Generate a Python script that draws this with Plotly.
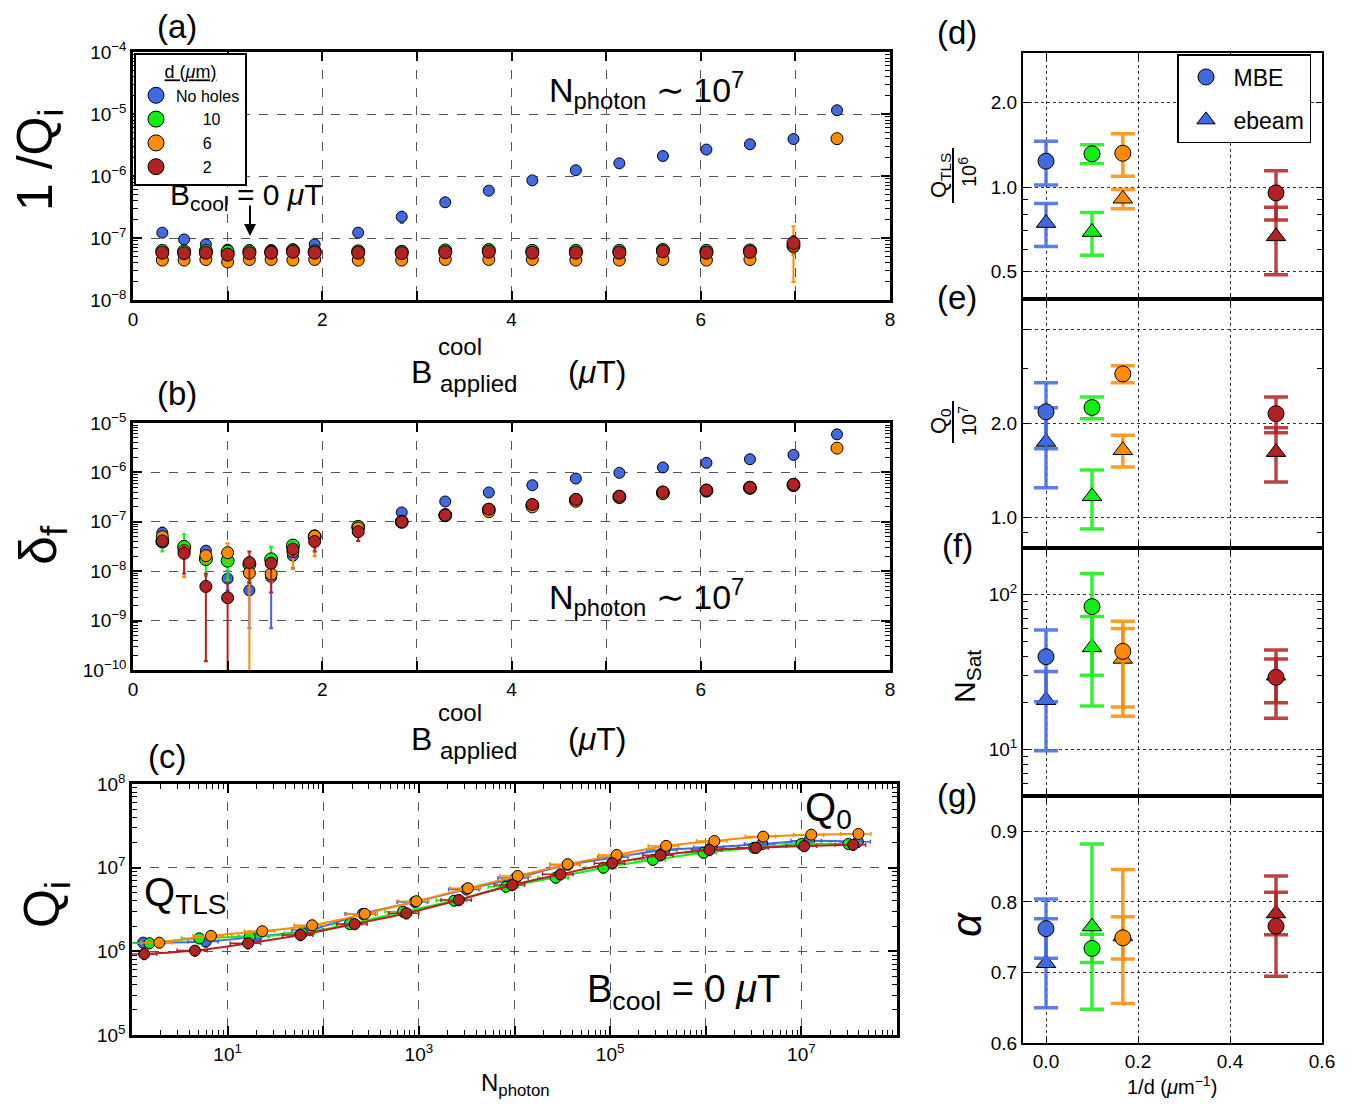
import plotly.graph_objects as go
import math

W, H = 1357, 1106
OX, OY = 8, 8   # page offset of the figure inside the browser page
def px(x): return (x - OX) / W
def py(y): return 1 - (y - OY) / H

FONT = "Liberation Sans, Arial, sans-serif"

# ---------------- data ----------------
series_names = ["No holes", "10", "6", "2"]
series_colors = ["#4169E1", "#11EE11", "#FF8C00", "#B22222"]

B_applied = [0.31, 0.54, 0.77, 1.00, 1.23, 1.46, 1.69, 1.92, 2.38, 2.84,
             3.30, 3.76, 4.22, 4.68, 5.14, 5.60, 6.06, 6.52, 6.98, 7.44]

# (a) 1/Qi
invQ_noholes = [1.22e-7, 9.5e-8, 7.9e-8, 6.5e-8, 6.4e-8, 6.4e-8, 6.6e-8, 7.9e-8, 1.22e-7, 2.2e-7,
                3.77e-7, 5.8e-7, 8.5e-7, 1.24e-6, 1.6e-6, 2.1e-6, 2.67e-6, 3.25e-6, 3.95e-6, 1.15e-5]
invQ_noholes_err = [1.5e-8, 1.2e-8, 1.0e-8, 1.0e-8, 8e-9, 8e-9, 1.0e-8, 1.0e-8, 2e-8, 4.5e-8,
                    3e-8, 3e-8, 4e-8, 5e-8, 6e-8, 8e-8, 1e-7, 1.2e-7, 1.5e-7, 4e-7]
invQ_10 = [6.2e-8, 6.1e-8, 6.2e-8, 6.0e-8, 6.1e-8, 6.0e-8, 6.3e-8, 6.1e-8, 6.1e-8, 6.0e-8,
           6.3e-8, 6.4e-8, 6.2e-8, 6.2e-8, 6.2e-8, 6.4e-8, 6.2e-8, 6.3e-8, 7.4e-8]
invQ_10_err = [4e-9, 4e-9, 4e-9, 4e-9, 4e-9, 4e-9, 4e-9, 4e-9, 4e-9, 4e-9,
               4e-9, 4e-9, 4e-9, 4e-9, 4e-9, 4e-9, 4e-9, 4e-9, 2.1e-8]
invQ_6 = [4.4e-8, 4.4e-8, 4.5e-8, 4.1e-8, 4.5e-8, 4.5e-8, 4.4e-8, 4.5e-8, 4.4e-8, 4.4e-8,
          4.5e-8, 4.5e-8, 4.5e-8, 4.4e-8, 4.4e-8, 4.5e-8, 4.4e-8, 4.5e-8, 7.5e-8, 4.0e-6]
invQ_6_errp = [3e-9, 3e-9, 3e-9, 3e-9, 3e-9, 3e-9, 3e-9, 3e-9, 3e-9, 3e-9,
               3e-9, 3e-9, 3e-9, 3e-9, 3e-9, 3e-9, 3e-9, 3e-9, 8e-8, 2e-7]
invQ_6_errm = [3e-9, 3e-9, 3e-9, 3e-9, 3e-9, 3e-9, 3e-9, 3e-9, 3e-9, 3e-9,
               3e-9, 3e-9, 3e-9, 3e-9, 3e-9, 3e-9, 3e-9, 3e-9, 5.55e-8, 2e-7]
invQ_2 = [5.8e-8, 5.7e-8, 5.8e-8, 5.4e-8, 5.7e-8, 5.8e-8, 6.0e-8, 5.8e-8, 5.8e-8, 5.7e-8,
          5.9e-8, 6.0e-8, 5.8e-8, 5.8e-8, 5.8e-8, 6.1e-8, 5.8e-8, 6.0e-8, 8.3e-8]
invQ_2_err = [4e-9, 4e-9, 4e-9, 4e-9, 4e-9, 4e-9, 4e-9, 4e-9, 4e-9, 4e-9,
              4e-9, 4e-9, 4e-9, 4e-9, 4e-9, 4e-9, 4e-9, 4e-9, 2.5e-8]

# (b) delta_f
df_noholes = [6.0e-8, 3.2e-8, 2.6e-8, 7.1e-9, 4.1e-9, 7.6e-9, 2.06e-8, 5.3e-8, 8.0e-8, 1.55e-7,
              2.58e-7, 3.93e-7, 5.5e-7, 7.5e-7, 9.8e-7, 1.26e-6, 1.56e-6, 1.85e-6, 2.26e-6, 5.9e-6]
df_noholes_errp = [1.7e-8, 8e-9, 5e-9, 3e-9, 2e-9, 3e-9, 5e-9, 1e-8, 1e-8, 1.5e-8,
                   2e-8, 3e-8, 4e-8, 5e-8, 6e-8, 8e-8, 1e-7, 1e-7, 1.2e-7, 3e-7]
df_noholes_errm = [1.2e-8, 8e-9, 5e-9, 3e-9, 3.4e-9, 6.9e-9, 9e-9, 1e-8, 1e-8, 1.5e-8,
                   2e-8, 3e-8, 4e-8, 5e-8, 6e-8, 8e-8, 1e-7, 1e-7, 1.2e-7, 3e-7]
df_10 = [4.0e-8, 3.1e-8, 1.76e-8, 1.63e-8, 1.38e-8, 1.74e-8, 3.3e-8, 5.0e-8, 7.9e-8, 1.0e-7,
         1.36e-7, 1.75e-7, 2.15e-7, 2.75e-7, 3.2e-7, 3.9e-7, 4.3e-7, 4.9e-7, 5.6e-7]
df_10_errp = [8e-9, 2.5e-8, 6e-9, 6e-9, 5e-9, 1.4e-8, 8e-9, 8e-9, 8e-9, 1e-8,
              1.5e-8, 2e-8, 2e-8, 2.5e-8, 3e-8, 3e-8, 3.5e-8, 4e-8, 4.5e-8]
df_10_errm = [1.5e-8, 1.0e-8, 9.5e-9, 9.7e-9, 7.3e-9, 6e-9, 8e-9, 8e-9, 8e-9, 1e-8,
              1.5e-8, 2e-8, 2e-8, 2.5e-8, 3e-8, 3e-8, 3.5e-8, 4e-8, 4.5e-8]
df_6 = [5.0e-8, 2.6e-8, 2.06e-8, 2.37e-8, 9.2e-9, 8.8e-9, 2.5e-8, 5.1e-8, 7.5e-8, 1.0e-7,
        1.38e-7, 1.6e-7, 2.0e-7, 2.6e-7, 3.1e-7, 3.7e-7, 4.2e-7, 4.8e-7, 5.4e-7, 3.1e-6]
df_6_errp = [1e-8, 8e-9, 5e-9, 1.3e-8, 4e-9, 3e-9, 5e-9, 8e-9, 8e-9, 1e-8,
             1.5e-8, 2e-8, 2e-8, 2.5e-8, 3e-8, 3e-8, 3.5e-8, 4e-8, 4.5e-8, 2e-7]
df_6_errm = [1e-8, 1.85e-8, 5e-9, 8e-9, 9.15e-9, 3e-9, 1.4e-8, 3.1e-8, 8e-9, 1e-8,
             1.5e-8, 2e-8, 2e-8, 2.5e-8, 3e-8, 3e-8, 3.5e-8, 4e-8, 4.5e-8, 2e-7]
df_2 = [4.1e-8, 2.3e-8, 4.9e-9, 2.9e-9, 1.5e-8, 1.45e-8, 2.8e-8, 4.0e-8, 6.3e-8, 1.0e-7,
        1.36e-7, 1.8e-7, 2.24e-7, 2.84e-7, 3.3e-7, 4.0e-7, 4.36e-7, 4.95e-7, 5.7e-7]
df_2_errp = [8e-9, 9e-9, 4e-9, 2.9e-9, 1e-8, 4e-9, 6e-9, 8e-9, 8e-9, 1e-8,
             1.5e-8, 2e-8, 2e-8, 2.5e-8, 3e-8, 3e-8, 3.5e-8, 4e-8, 4.5e-8]
df_2_errm = [8e-9, 1.4e-8, 4.75e-9, 2.89e-9, 9.2e-9, 1.08e-8, 8e-9, 1.5e-8, 2.2e-8, 1e-8,
             1.5e-8, 2e-8, 2e-8, 2.5e-8, 3e-8, 3e-8, 3.5e-8, 4e-8, 4.5e-8]

# (c) Qi vs Nphoton
N_noholes = [1.31, 5.9, 20, 72, 260, 910, 3150, 1.03e4, 3.6e4, 1.14e5, 3.7e5, 1.15e6, 3.9e6, 1.2e7, 3.9e7]
Qi_noholes = [1.27e6, 1.31e6, 1.5e6, 1.8e6, 2.8e6, 3.9e6, 5.5e6, 7.5e6, 1.08e7, 1.33e7, 1.63e7, 1.75e7, 1.92e7, 2.1e7, 2.04e7]
N_10 = [1.52, 5.06, 17, 60, 189, 683, 2340, 8160, 2.7e4, 8.5e4, 2.8e5, 9.5e5, 3.2e6, 1.0e7, 3.1e7]
Qi_10 = [1.25e6, 1.43e6, 1.5e6, 1.65e6, 2.12e6, 2.98e6, 4.04e6, 5.93e6, 7.6e6, 1.0e7, 1.24e7, 1.51e7, 1.73e7, 1.92e7, 1.92e7]
N_6 = [1.93, 6.7, 23, 76.5, 272, 942, 3260, 1.08e4, 3.6e4, 1.17e5, 3.85e5, 1.23e6, 3.99e6, 1.27e7, 3.95e7]
Qi_6 = [1.27e6, 1.53e6, 1.74e6, 2.05e6, 2.8e6, 3.97e6, 5.68e6, 7.96e6, 1.1e7, 1.42e7, 1.82e7, 2.08e7, 2.35e7, 2.48e7, 2.53e7]
N_2 = [1.34, 4.55, 16.4, 57.8, 213, 740, 2620, 9460, 3.02e4, 1.05e5, 3.37e5, 1.09e6, 3.35e6, 1.07e7, 3.48e7]
Qi_2 = [9.3e5, 1.02e6, 1.25e6, 1.57e6, 2.12e6, 2.85e6, 4.11e6, 6.2e6, 8.33e6, 1.13e7, 1.41e7, 1.63e7, 1.73e7, 1.81e7, 1.88e7]

# (d)-(g) fit parameters vs 1/d  (order: No holes, 10, 6, 2)
inv_d = [0.0, 0.1, 0.167, 0.5]
QTLS_mbe = [1.237, 1.314, 1.32, 0.954]
QTLS_mbe_err = [0.22, 0.10, 0.227, 0.19]
QTLS_ebeam = [0.745, 0.692, 0.909, 0.668]
QTLS_ebeam_err = [0.13, 0.12, 0.072, 0.18]
Q0_mbe = [2.18, 2.25, 2.88, 2.15]
Q0_mbe_err = [0.52, 0.18, 0.18, 0.28]
Q0_ebeam = [1.746, 1.17, 1.643, 1.62]
Q0_ebeam_err = [0.50, 0.25, 0.19, 0.32]
Nsat_mbe = [39.7, 83.6, 43.0, 29.2]
Nsat_mbe_err = [19.4, 53.5, 24.2, 9.2]
Nsat_ebeam = [20.8, 45.6, 38.4, 29.9]
Nsat_ebeam_err = [11.0, 26.5, 22.0, 14.0]
alpha_mbe = [0.762, 0.734, 0.749, 0.7655]
alpha_mbe_err = [0.042, 0.02, 0.03, 0.071]
alpha_ebeam = [0.713, 0.765, 0.751, 0.7835]
alpha_ebeam_err = [0.063, 0.117, 0.095, 0.03]

# ---------------- figure ----------------
fig = go.Figure()

def rgba(hexc, a):
    h = hexc.lstrip('#')
    return "rgba(%d,%d,%d,%.2f)" % (int(h[0:2], 16), int(h[2:4], 16), int(h[4:6], 16), a)

# (a)
a_vals = [invQ_noholes, invQ_10, invQ_6, invQ_2]
a_errp = [invQ_noholes_err, invQ_10_err, invQ_6_errp, invQ_2_err]
a_errm = [invQ_noholes_err, invQ_10_err, invQ_6_errm, invQ_2_err]
a_sizes = [11, 13, 12, 13]
for i in range(4):
    fig.add_trace(go.Scatter(
        x=B_applied[:len(a_vals[i])], y=a_vals[i], mode="markers",
        marker=dict(size=a_sizes[i], color=series_colors[i], line=dict(color="black", width=1)),
        error_y=dict(type="data", array=a_errp[i], arrayminus=a_errm[i], symmetric=False,
                     color=series_colors[i], thickness=2, width=2),
        xaxis="x", yaxis="y", showlegend=False))
# legend entries (a)
for i in range(4):
    fig.add_trace(go.Scatter(
        x=[None], y=[None], mode="markers",
        name=series_names[i] if i == 0 else "\u2007\u2007\u2007" + series_names[i],
        marker=dict(size=16, color=series_colors[i], line=dict(color="black", width=1)),
        xaxis="x", yaxis="y", legend="legend", showlegend=True))

# (b)
b_vals = [df_noholes, df_10, df_6, df_2]
b_errp = [df_noholes_errp, df_10_errp, df_6_errp, df_2_errp]
b_errm = [df_noholes_errm, df_10_errm, df_6_errm, df_2_errm]
b_sizes = [11, 13, 12, 12]
for i in range(4):
    fig.add_trace(go.Scatter(
        x=B_applied[:len(b_vals[i])], y=b_vals[i], mode="markers",
        marker=dict(size=b_sizes[i], color=series_colors[i], line=dict(color="black", width=1)),
        error_y=dict(type="data", array=b_errp[i], arrayminus=b_errm[i], symmetric=False,
                     color=series_colors[i], thickness=2, width=2),
        xaxis="x2", yaxis="y2", showlegend=False))

# (c)
c_N = [N_noholes, N_10, N_6, N_2]
c_Q = [Qi_noholes, Qi_10, Qi_6, Qi_2]
for i in range(4):
    fig.add_trace(go.Scatter(
        x=c_N[i], y=c_Q[i], mode="lines+markers",
        line=dict(color=series_colors[i], width=2, shape="spline", smoothing=1.0),
        marker=dict(size=11, color=series_colors[i], line=dict(color="black", width=1)),
        error_y=dict(type="percent", value=14, color=series_colors[i], thickness=1.5, width=2),
        error_x=dict(type="percent", value=35, color=series_colors[i], thickness=1.5, width=2),
        xaxis="x3", yaxis="y3", showlegend=False))

# (d)-(g)
right = [
    ("x4", "y4", QTLS_mbe, QTLS_mbe_err, QTLS_ebeam, QTLS_ebeam_err),
    ("x5", "y5", Q0_mbe, Q0_mbe_err, Q0_ebeam, Q0_ebeam_err),
    ("x6", "y6", Nsat_mbe, Nsat_mbe_err, Nsat_ebeam, Nsat_ebeam_err),
    ("x7", "y7", alpha_mbe, alpha_mbe_err, alpha_ebeam, alpha_ebeam_err),
]
for xa, ya, mv, me, ev, ee in right:
    for i in range(4):
        for vals, errs, sym, sz in ((ev, ee, "triangle-up", 17), (mv, me, "circle", 16)):
            fig.add_trace(go.Scatter(
                x=[inv_d[i]], y=[vals[i]], mode="markers",
                marker=dict(size=sz, symbol=sym, color=series_colors[i], line=dict(color="black", width=1)),
                error_y=dict(type="data", array=[errs[i]], color=rgba(series_colors[i], 0.85),
                             thickness=3.5, width=12),
                xaxis=xa, yaxis=ya, showlegend=False))

# legend entries (d)
for nm, sym in (("MBE", "circle"), ("ebeam", "triangle-up")):
    fig.add_trace(go.Scatter(
        x=[None], y=[None], mode="markers", name=nm, legendgroup=nm,
        marker=dict(size=18, symbol=sym, color=series_colors[0], line=dict(color="black", width=1)),
        xaxis="x4", yaxis="y4", legend="legend2", showlegend=True))

# ---------------- axes ----------------
def sup(e):
    return "10<sup>%s</sup>" % (("\u2212%d" % -e) if e < 0 else str(e))

left_ax = dict(showline=True, linecolor="black", linewidth=2.5, mirror="allticks",
               ticks="inside", ticklen=9, tickwidth=2, tickcolor="black",
               showgrid=True, gridcolor="#555555", griddash="dash", gridwidth=1,
               zeroline=False, automargin=False, tickfont=dict(family=FONT, size=19, color="black"))
right_ax = dict(showline=True, linecolor="black", linewidth=2, mirror="allticks",
                ticks="inside", ticklen=6, tickwidth=1.2, tickcolor="black",
                showgrid=True, gridcolor="#333333", griddash="dot", gridwidth=1,
                zeroline=False, automargin=False, tickfont=dict(family=FONT, size=19, color="black"))
log_minor = dict(ticks="inside", ticklen=5, tickwidth=1, tickcolor="black", dtick="D1", showgrid=False)

xa_dom = [px(133), px(890)]
lay = {}
lay["xaxis"] = dict(left_ax, domain=xa_dom, anchor="y", range=[0, 8],
                    tickvals=list(range(9)), ticktext=["0", "", "2", "", "4", "", "6", "", "8"])
lay["yaxis"] = dict(left_ax, domain=[py(300), py(52)], anchor="x", type="log", range=[-8, -4],
                    tickvals=[1e-8, 1e-7, 1e-6, 1e-5, 1e-4],
                    ticktext=[sup(e) for e in (-8, -7, -6, -5, -4)], minor=log_minor)
lay["xaxis2"] = dict(left_ax, domain=xa_dom, anchor="y2", range=[0, 8],
                     tickvals=list(range(9)), ticktext=["0", "", "2", "", "4", "", "6", "", "8"])
lay["yaxis2"] = dict(left_ax, domain=[py(670), py(423)], anchor="x2", type="log", range=[-10, -5],
                     tickvals=[10.0 ** e for e in range(-10, -4)],
                     ticktext=[sup(e) for e in range(-10, -4)], minor=log_minor)
lay["xaxis3"] = dict(left_ax, domain=[px(132), px(897)], anchor="y3", type="log", range=[0, 8],
                     tickvals=[10.0 ** e for e in range(0, 9)],
                     ticktext=[sup(e) if e % 2 == 1 else "" for e in range(0, 9)], minor=log_minor)
lay["yaxis3"] = dict(left_ax, domain=[py(1035), py(784)], anchor="x3", type="log", range=[5, 8],
                     tickvals=[1e5, 1e6, 1e7, 1e8], ticktext=[sup(e) for e in (5, 6, 7, 8)], minor=log_minor)

for k in range(4):
    n = 4 + k
    lay["xaxis%d" % n] = dict(right_ax, domain=[px(1023), px(1322)], anchor="y%d" % n, range=[-0.05, 0.6],
                              tickvals=[0.0, 0.2, 0.4, 0.6], ticktext=["0.0", "0.2", "0.4", "0.6"],
                              showticklabels=(k == 3))
lay["yaxis4"] = dict(right_ax, domain=[py(299), py(53)], anchor="x4", type="log",
                     range=[math.log10(0.4), math.log10(3.0)], tickvals=[0.5, 1.0, 2.0],
                     ticktext=["0.5", "1.0", "2.0"], minor=log_minor)
lay["yaxis5"] = dict(right_ax, domain=[py(548), py(299)], anchor="x5", type="log",
                     range=[math.log10(0.8), math.log10(5.0)], tickvals=[1.0, 2.0, 4.0],
                     ticktext=["1.0", "2.0", ""], minor=log_minor)
lay["yaxis6"] = dict(right_ax, domain=[py(796), py(548)], anchor="x6", type="log",
                     range=[math.log10(5), math.log10(200)], tickvals=[10, 100],
                     ticktext=[sup(1), sup(2)], minor=log_minor)
lay["yaxis7"] = dict(right_ax, domain=[py(1043), py(796)], anchor="x7", range=[0.6, 0.95],
                     tickvals=[0.6, 0.7, 0.8, 0.9], ticktext=["0.6", "0.7", "0.8", "0.9"])

# ---------------- annotations ----------------
ann = []
def txt(x, y, t, size, angle=0, xanchor="center"):
    ann.append(dict(x=px(x), y=py(y), xref="paper", yref="paper", text=t, showarrow=False,
                    textangle=angle, xanchor=xanchor, yanchor="middle",
                    font=dict(family=FONT, size=size, color="black")))

for lab, x, y in (("(a)", 177, 27), ("(b)", 177, 393), ("(c)", 167, 757), ("(d)", 957, 32),
                  ("(e)", 957, 297), ("(f)", 957, 545), ("(g)", 957, 795)):
    txt(x, y, lab, 33)

txt(38, 160, "1 /Q<sub>i</sub>", 50, -90)
txt(42, 545, "\u03b4<sub>f</sub>", 52, -90)
txt(45, 905, "Q<sub>i</sub>", 50, -90)

for yB, yc, ya in ((372, 346, 383), (739, 712, 750)):
    txt(421, yB, "B", 32)
    txt(460, yc, "cool", 24)
    txt(478, ya, "applied", 24)
    txt(597, yB, "(<i>\u03bc</i>T)", 32)

txt(515, 1084, "N<sub>photon</sub>", 24)
txt(1172, 1085, "1/d (<i>\u03bc</i>m<sup>\u22121</sup>)", 20)

txt(646, 90, "N<sub>photon</sub> \u223c 10<sup>7</sup>", 34)
txt(646, 597, "N<sub>photon</sub> \u223c 10<sup>7</sup>", 34)
txt(246, 196, "B<sub>cool</sub> = 0 <i>\u03bc</i>T", 30)
txt(185, 895, "Q<sub>TLS</sub>", 40)
txt(828, 810, "Q<sub>0</sub>", 40)
txt(683, 992, "B<sub>cool</sub> = 0 <i>\u03bc</i>T", 38)

# right-side y labels
txt(940, 176, "Q<sub>TLS</sub>", 22, -90)
txt(967, 172, "10<sup>6</sup>", 20, -90)
txt(940, 421, "Q<sub>0</sub>", 22, -90)
txt(967, 421, "10<sup>7</sup>", 20, -90)
txt(966, 677, "N<sub>Sat</sub>", 30, -90)
txt(966, 925, "<i>\u03b1</i>", 42, -90)

# arrow in (a)
ann.append(dict(x=px(250), y=py(236), xref="paper", yref="paper", ax=0, ay=-32, axref="pixel", ayref="pixel",
                text="", showarrow=True, arrowhead=2, arrowsize=1.2, arrowwidth=2, arrowcolor="black"))

shapes = [
    dict(type="line", xref="paper", yref="paper", x0=px(953), x1=px(953), y0=py(148), y1=py(203),
         line=dict(color="black", width=2)),
    dict(type="line", xref="paper", yref="paper", x0=px(953), x1=px(953), y0=py(401), y1=py(443),
         line=dict(color="black", width=2)),
]

fig.update_layout(
    width=W, height=H, margin=dict(l=0, r=0, t=0, b=0, pad=0, autoexpand=False),
    paper_bgcolor="white", plot_bgcolor="white",
    font=dict(family=FONT, color="black"),
    annotations=ann, shapes=shapes,
    legend=dict(x=px(134), y=py(53), xanchor="left", yanchor="top",
                bgcolor="white", bordercolor="black", borderwidth=2,
                font=dict(family=FONT, size=16, color="black"),
                title=dict(text="<u>d (<i>\u03bc</i>m)</u>", side="top center",
                           font=dict(family=FONT, size=18, color="black")),
                itemsizing="trace", tracegroupgap=0),
    legend2=dict(x=px(1177), y=py(54), xanchor="left", yanchor="top",
                 bgcolor="white", bordercolor="black", borderwidth=1.5,
                 font=dict(family=FONT, size=23, color="black"),
                 itemsizing="trace", itemwidth=45, tracegroupgap=10),
    **lay)

fig.write_html("out.html")
